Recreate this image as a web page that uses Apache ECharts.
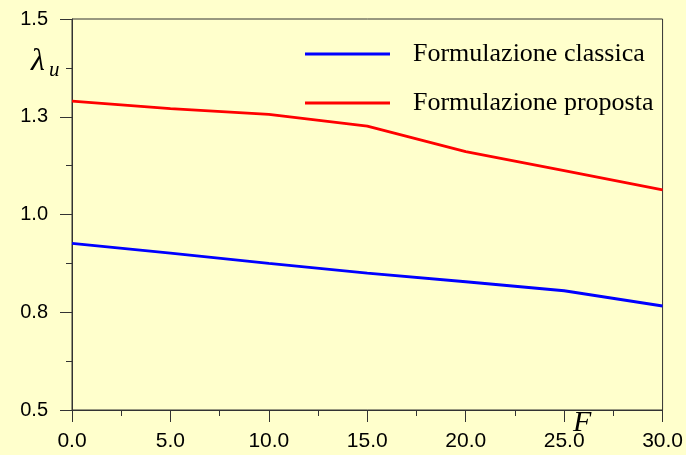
<!DOCTYPE html>
<html>
<head>
<meta charset="utf-8">
<script src="https://cdn.jsdelivr.net/npm/echarts@6/dist/echarts.min.js"></script>
<style>html,body{margin:0;padding:0;background:#FFFFCC;}#c{width:686px;height:455px;}</style>
</head>
<body>
<div id="c"></div>
<script>
const xValues = [0, 5, 10, 15, 20, 25, 30];
const classica = [0.926, 0.901, 0.875, 0.850, 0.828, 0.805, 0.766];
const proposta = [1.290, 1.271, 1.256, 1.226, 1.161, 1.112, 1.063];
const seriesNames = ['Formulazione classica', 'Formulazione proposta'];

const chart = echarts.init(document.getElementById('c'), null, {renderer: 'canvas'});
const axisColor = '#333333';
const tickFont = "'Liberation Sans Narrow', 'Liberation Sans', Arial, sans-serif";
chart.setOption({
  backgroundColor: '#FFFFCC',
  animation: false,
  grid: {left: 72, right: 23, top: 19, bottom: 45, show: true, borderColor: axisColor, borderWidth: 1, backgroundColor: 'transparent'},
  legend: {
    orient: 'vertical', left: 300, top: 34,
    icon: 'rect', itemWidth: 85, itemHeight: 3, itemGap: 19,
    textStyle: {fontFamily: "'Liberation Serif', 'Times New Roman', serif", fontSize: 26, color: '#000', lineHeight: 30, padding: [0, 0, 0, 18]},
    data: seriesNames
  },
  xAxis: {
    type: 'value', min: 0, max: 30, interval: 5,
    axisLine: {lineStyle: {color: axisColor, width: 1}},
    axisTick: {length: 12, lineStyle: {color: axisColor}},
    minorTick: {show: true, splitNumber: 2, length: 6, lineStyle: {color: axisColor}},
    splitLine: {show: false},
    axisLabel: {margin: 21, fontFamily: tickFont, fontSize: 21, color: '#000', formatter: v => v.toFixed(1)}
  },
  yAxis: {
    type: 'value', min: 0.5, max: 1.5, interval: 0.25,
    axisLine: {show: true, lineStyle: {color: axisColor, width: 1}},
    axisTick: {show: true, length: 12, lineStyle: {color: axisColor}},
    minorTick: {show: true, splitNumber: 2, length: 6, lineStyle: {color: axisColor}},
    splitLine: {show: false},
    axisLabel: {margin: 24, fontFamily: tickFont, fontSize: 20, color: '#000', formatter: v => v.toFixed(1)}
  },
  graphic: [
    {type: 'text', left: 573, top: 408, style: {text: 'F', font: "italic 30px 'Liberation Serif', serif", fill: '#000'}},
    {type: 'text', left: 31, top: 46, style: {text: 'λ', font: "italic 32px 'Liberation Serif', serif", fill: '#000'}},
    {type: 'text', left: 49, top: 60, style: {text: 'u', font: "italic 21px 'Liberation Serif', serif", fill: '#000'}}
  ],
  series: [
    {name: seriesNames[0], type: 'line', symbol: 'none', lineStyle: {color: '#0000FF', width: 2.8}, itemStyle: {color: '#0000FF'},
     data: xValues.map((x, i) => [x, classica[i]])},
    {name: seriesNames[1], type: 'line', symbol: 'none', lineStyle: {color: '#FF0000', width: 2.8}, itemStyle: {color: '#FF0000'},
     data: xValues.map((x, i) => [x, proposta[i]])}
  ]
});
</script>
</body>
</html>
